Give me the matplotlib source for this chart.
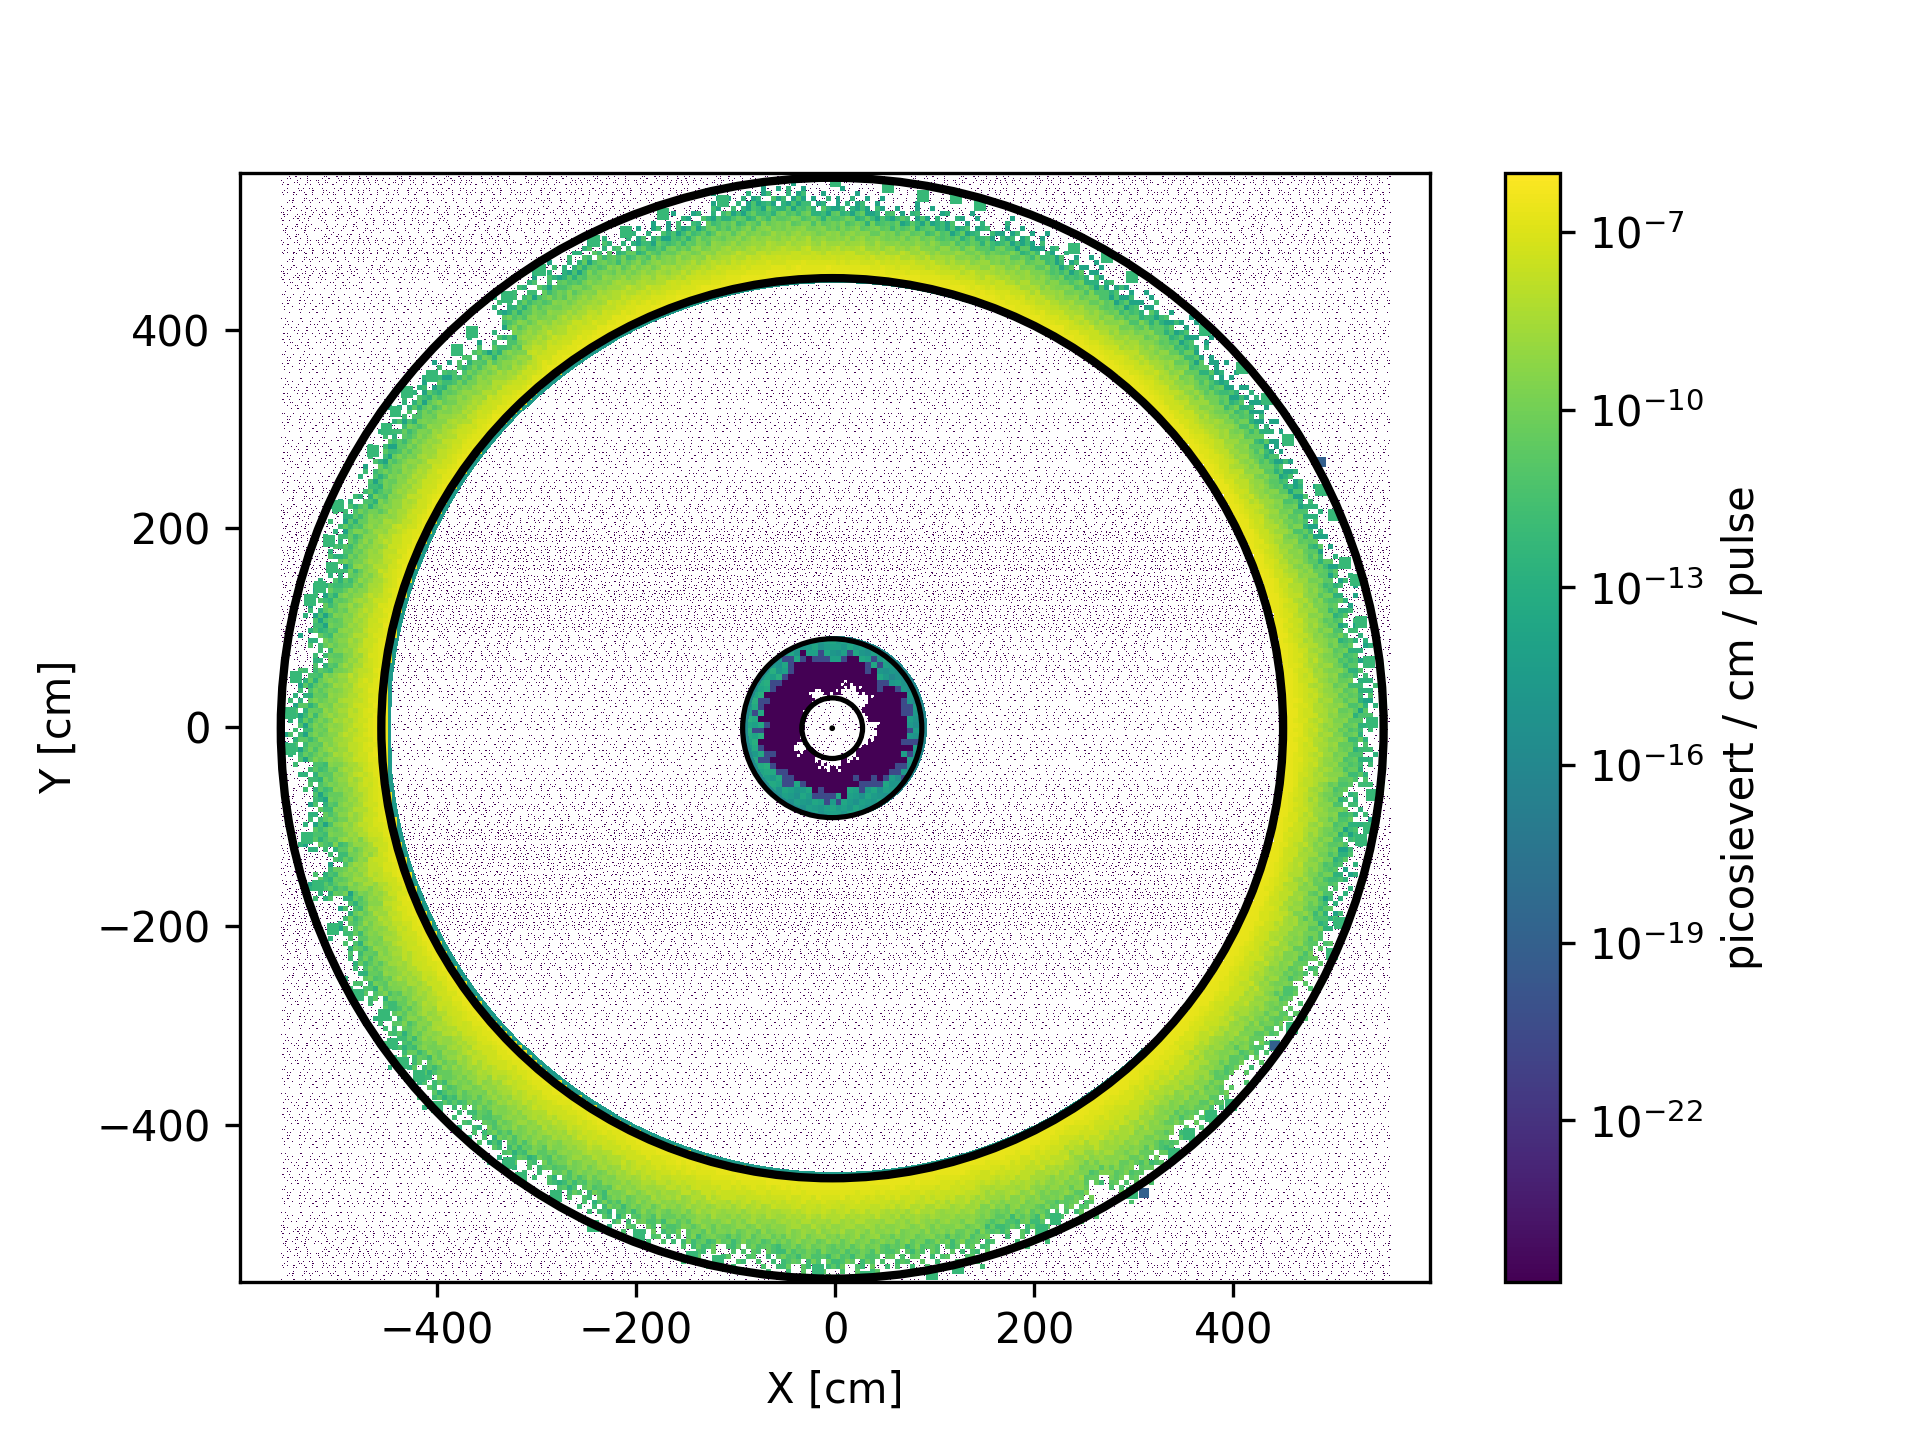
import numpy as np
import matplotlib
matplotlib.use("Agg")
import matplotlib.pyplot as plt
from matplotlib.colors import LogNorm
from matplotlib.patches import Circle

# colour range and colorbar ticks
vmin = 1.9e-25
vmax = 1e-6
cbar_ticks = [1e-22, 1e-19, 1e-16, 1e-13, 1e-10, 1e-7]

# outer edge of the ring, angle (deg) -> radius (cm)
edge_angle = [1.6, 7.5, 12, 17, 21, 25.5, 31.4, 37, 41.6, 50, 56, 62, 68, 74.6, 83, 90,
              96, 101.7, 107, 113, 117, 120, 124, 127.5, 131, 135, 139, 142, 144, 146.4, 149, 154, 156, 160,
              163, 165, 166.7, 170, 172.4, 175, 178.4,
              182.4, 185.6, 188.4, 190, 192, 194.5, 197, 200.6, 202, 204.4, 206.3, 209, 212.3, 215.5, 217.6,
              220, 223, 227.4, 230.4, 233, 236.5, 239.4, 242, 245.7, 248.9, 252.4, 255, 259.5, 263, 265.7,
              273, 276.7, 281, 285.5, 288, 292, 294, 297.4, 300, 302.4, 305.7, 308.3, 311, 315.2, 319,
              323.8, 327, 330, 332.2, 334.8, 339, 341.7, 346, 349.3, 352.7, 354.8, 358]
edge_radius = [546, 540, 535, 537, 532, 536, 533, 539, 535, 541, 533, 534, 537, 531, 532, 537,
               547, 545, 539, 539, 548, 544, 546, 548, 525, 536, 541, 546, 545, 543, 543, 537, 549, 544,
               531, 542, 543, 541, 532, 547, 551,
               553, 539, 535, 539, 548, 529, 551, 532, 545, 543, 547, 551, 542, 549, 555,
               550, 555, 547, 551, 550, 544, 548, 544, 552, 551, 547, 553, 547, 546, 554,
               553, 549, 551, 554, 543, 552, 545, 552, 537, 555, 554, 551, 543, 552, 541,
               546, 551, 542, 543, 543, 544, 540, 540, 541, 532, 544, 543]
edge_trim = 7  # the readings above lean on the outlying blocks

# log10 dose across the ring, 0 = inner wall, 1 = outer edge
profile_log = [-6.5, -6.6, -6.7, -6.9, -7.1, -7.4, -7.6, -7.9, -8.2, -8.5, -8.8, -9.1, -9.4, -9.7, -10.0, -10.4, -10.8, -11.3, -11.9, -12.6, -13.8]

# how far the bright band reaches, per direction
ring_scale_angle = [0, 45, 90, 135, 180, 225, 270, 315]
ring_scale = [1.0, 1.05, 1.05, 1.0, 1.0, 0.95, 0.92, 0.88]

# block to block wobble of the ring
ring_jitter = [[0, 1, -1, 2, 0, -2, 1, 0, -1, 1, 2],
               [-1, 2, 0, -2, 1, 0, -1, 2, 1, -2, 0],
               [2, -1, 1, 0, -2, 2, 0, -1, -2, 1, 0],
               [0, -2, 2, 1, -1, 0, 2, -2, 1, 0, -1],
               [1, 0, -2, -1, 2, 1, -2, 0, 2, -1, 1],
               [-2, 1, 0, 2, -1, -2, 1, 1, 0, 2, -1],
               [1, -1, 2, 0, 1, -1, 0, 2, -2, 0, 1]]

# stray blocks between the ring and the outer circle (x, y in cm)
island_x = [121, 145, 0, 53, 88, 240, 273, 298, 408, 371, 433, 455, 488, 501, 512, 523, 528, 536, 539,
            -173, -210, -113, -243, -297, -330, -365, -380, -405, -430, -442, -451, -465, -500, -509, -506, -518, -528, -548, -542,
            -548, -531, -520, -505, -480, -454, -445, -434, -418, -400, -328, -316, -281, -244, -197, -144, -118, -18,
            31, 123, 97, 207, 221, 298, 340, 355, 397, 377, 441, 459, 499, 507, 528, 536, 539]
island_y = [533, 526, 550, 544, 535, 482, 473, 453, 362, 400, 331, 289, 239, 214, 166, 148, 106, 66, 5,
            517, 499, 530, 490, 460, 433, 398, 380, 354, 338, 318, 300, 278, 223, 188, 161, 141, 128, 15, 51,
            -22, -111, -159, -203, -269, -289, -318, -338, -351, -382, -438, -453, -471, -502, -511, -533, -537, -546,
            -553, -544, -550, -506, -495, -468, -429, -409, -380, -391, -320, -302, -228, -197, -113, -101, -68]
island_log = -12.2
dark_x = [488, 441, 310]
dark_y = [267, -320, -468]
dark_log = -19.0

# small disk: purple zone limits per direction
disk_angle = list(range(0, 360, 15))
disk_outer = [72, 72, 72, 63, 70, 72, 65, 72, 77, 71, 74, 73, 72, 74, 72, 69, 65, 65, 69, 60, 64, 71, 76, 73]
disk_inner = [43, 34, 32, 45, 45, 44, 34, 34, 44, 32, 32, 30, 30, 36, 46, 30, 36, 42, 42, 34, 38, 30, 36, 40]
disk_log_angle = [0, 90, 180, 270]
disk_log = [-15.0, -14.4, -13.7, -14.4]
disk_radius = 92

# speckle seen all over the square, copied roughly from a crop of the picture
speckle_tile = [
    "..x.......x....x.........xx.......x......x.....x..........x.x.......x.....x.....",
    "......x............x.x..........x.....xx.........x..x..........x.........x....x.",
    "x...........xx..........x....x..........................x...x.......xx..........",
    "....x..x.........x...........x...x..x......x.x.....................x.......x....",
    "...............................................................................",
    ".x.....xx.....x.....x..xx........x.....x.....xx..x.........x....x..x......x.....",
    "......x....x.........x.......x........x...........x.....xx.........x.........x..",
    "..x...............x......x.........xx.........x..........x...x.........xx.......",
    "........x..xx..........x....x..x.........x.......x..x...........x............x..",
    "x...x..............xx..........x.........x.x...........x...xx.....x...x.........",
    "............x..........x.x........x.x..........x......x.........x........x...x..",
    "...x...x.........x...........x..............xx.....x.........x........x.........",
    "...............................................................................",
    "......x...............................x.........................x...............",
    "..x.........x..x........xx.....x.........x....x.....x.x........x.....xx.......x.",
    "........x..........x........x......xx.......x.............xx........x....x......",
    ".x....x.....xx.........x.......x..........x.....x...x..........x.............x..",
    ".........x.......x.......x.x.......x..x..........x.......x.x.......x..x.........",
    "...x..............x.x..........xx.........x..x...........x.....x.......x.....x..",
    "x.......xx....x..........x.............x.......xx.....x........x...x.........x..",
    "......x..........x....x.....x..x.........x...........x.....xx..........x..x.....",
    "...x.......x...........x..........xx.........x.x.........x........xx........x...",
    "...............................................................................",
    "...............x...............................x..................x.............",
    ".x....xx..........x.....x....x........x..x.........xx.........x.......x.....x...",
    ".......x.....x......x........x..xx.......x.......x........x.x.......x...........",
    "..x..........x..x.........x..........x......x.x........x.........x.....x.....x..",
    "......x.x.........xx...x.......x.........x.........x.....xx..........x..........",
    "x...............x.........x..x.....x.x......x.............x....x.x......x....x..",
    "....x.....xx........x..........x.........xx......x..x.........x......x..........",
]
# how busy the speckle is in each 50 cm band, from y = -550 upwards
speckle_bands = [2, 1, 1, 1, 1, 1, 2, 3, 3, 2, 1, 1, 2, 3, 3, 2, 1, 1, 1, 1, 2, 2]

# figure setup
x = np.arange(-557, 558) + 0.5
y = np.arange(-558, 558) + 0.5
X, Y = np.meshgrid(x, y)


def nearest(angles, values, query, period=360.0):
    # pick the value of the closest read-off angle, no blending
    angles = np.asarray(angles, dtype=float)
    values = np.asarray(values, dtype=float)
    mids = (angles + np.roll(angles, -1) + np.where(np.arange(len(angles)) == len(angles) - 1, period, 0)) / 2
    idx = np.searchsorted(mids, query % period) % len(angles)
    return values[idx]


def blocks(a, size):
    return np.floor(a / size) * size + size / 2.0


# speckle layer, tile mirrored in turn so that it does not show too plainly
width = max(len(r) for r in speckle_tile)
tile = np.array([[c == "x" for c in r.ljust(width, ".")] for r in speckle_tile])
row_a = np.hstack([tile, tile[:, ::-1], np.roll(tile, 29, axis=1), np.roll(tile[:, ::-1], 53, axis=1)])
row_b = np.hstack([np.roll(tile[::-1], 37, axis=1), np.roll(tile, 61, axis=1), tile[::-1], np.roll(tile, 17, axis=1)])
block = np.vstack([row_a, row_b])
reps = (len(y) // block.shape[0] + 1, len(x) // block.shape[1] + 1)
speckle = np.tile(block, reps)[:len(y), :len(x)]

# thin the rows band by band
row_no = np.arange(len(y))
band_no = np.clip(((y + 550) // 50).astype(int), 0, len(speckle_bands) - 1)
band_level = np.array(speckle_bands)[band_no]
keep_row = np.where(band_level == 3, row_no % 3 != 0, np.where(band_level == 2, row_no % 2 == 0, row_no % 3 == 0))
speckle = speckle & keep_row[:, None]

dose = np.full(X.shape, np.nan)
dose[speckle] = vmin

# big ring
R = np.hypot(X, Y)
XB = blocks(X, 5)
YB = blocks(Y, 5)
RB = np.hypot(XB, YB)
TB = np.degrees(np.arctan2(YB, XB)) % 360

edge = nearest(edge_angle, edge_radius, TB) - edge_trim
jitter = np.array(ring_jitter)
jit = jitter[((YB // 5).astype(int)) % jitter.shape[0], ((XB // 5).astype(int)) % jitter.shape[1]]
frac = (RB - 452.0) / (edge - 452.0)
frac_j = frac * (1 + 0.07 * jit)
shade = frac_j * nearest(ring_scale_angle, ring_scale, TB)
steps = np.clip(np.round(shade / 0.05).astype(int), 0, len(profile_log) - 1)
ring_log = np.array(profile_log)[steps]
ring_mask = (RB >= 452) & (frac_j <= 1.0)
dose[ring_mask] = 10.0 ** ring_log[ring_mask]

# thin darker lip on the inside of the ring
lip = (R >= 447) & (R < 453) & ~ring_mask
dose[lip] = 10.0 ** -14.5

# stray blocks
for ix, iy in zip(island_x, island_y):
    dose[(np.abs(X - ix) < 6) & (np.abs(Y - iy) < 6)] = 10.0 ** island_log
for ix, iy in zip(dark_x, dark_y):
    dose[(np.abs(X - ix) < 5) & (np.abs(Y - iy) < 5)] = 10.0 ** dark_log

# small disk
XD = blocks(X, 6)
YD = blocks(Y, 6)
RD = np.hypot(XD, YD)
TD = np.degrees(np.arctan2(YD, XD)) % 360
d_outer = nearest(disk_angle, disk_outer, TD)
d_log = nearest(disk_log_angle, disk_log, TD)
jd = jitter[((YD // 6).astype(int)) % jitter.shape[0], ((XD // 6).astype(int)) % jitter.shape[1]]

disk_mask = R <= disk_radius
dose[disk_mask] = 10.0 ** (d_log[disk_mask] + 0.4 * jd[disk_mask])
rim = (R > disk_radius - 4) & disk_mask
dose[rim] = 10.0 ** -15.8
shoulder = disk_mask & (RD + 2.5 * jd < d_outer + 5)
dose[shoulder] = 10.0 ** -20.5
purple = disk_mask & (RD + 2.5 * jd < d_outer)
dose[purple] = vmin

# white gaps round the innermost circle, in small blocks
XG = blocks(X, 3)
YG = blocks(Y, 3)
RG = np.hypot(XG, YG)
TG = np.degrees(np.arctan2(YG, XG)) % 360
jg = jitter[((YG // 3).astype(int)) % jitter.shape[0], ((XG // 3).astype(int)) % jitter.shape[1]]
d_inner = nearest(disk_angle, disk_inner, TG)
gap = (R < 31) | (RG + 2.0 * jg < d_inner)
dose[gap] = np.where(speckle[gap], vmin, np.nan)

fig, ax = plt.subplots(figsize=(6.4, 4.8))
im = ax.imshow(dose, extent=(x[0] - 0.5, x[-1] + 0.5, y[0] - 0.5, y[-1] + 0.5), origin="lower",
               cmap="viridis", norm=LogNorm(vmin=vmin, vmax=vmax), interpolation="nearest", aspect="auto")

# detector walls
cx, cy = -3, -1
ax.add_patch(Circle((cx, cy), 554, fill=False, color="k", lw=2))
ax.add_patch(Circle((cx, cy), 453, fill=False, color="k", lw=2))
ax.add_patch(Circle((cx, cy), 90, fill=False, color="k", lw=1.25))
ax.add_patch(Circle((cx, cy), 30.5, fill=False, color="k", lw=1.25))
ax.add_patch(Circle((cx, cy), 1.2, fill=True, color="k", lw=0.8))

ax.set_xlim(-598, 598)
ax.set_ylim(-558, 558)
ax.set_xticks([-400, -200, 0, 200, 400])
ax.set_yticks([-400, -200, 0, 200, 400])
ax.set_xlabel("X [cm]")
ax.set_ylabel("Y [cm]")

cbar = fig.colorbar(im, ax=ax)
cbar.set_ticks(cbar_ticks)
cbar.ax.minorticks_off()
cbar.set_label("picosievert / cm / pulse")

fig.savefig("out.png", dpi=300)
